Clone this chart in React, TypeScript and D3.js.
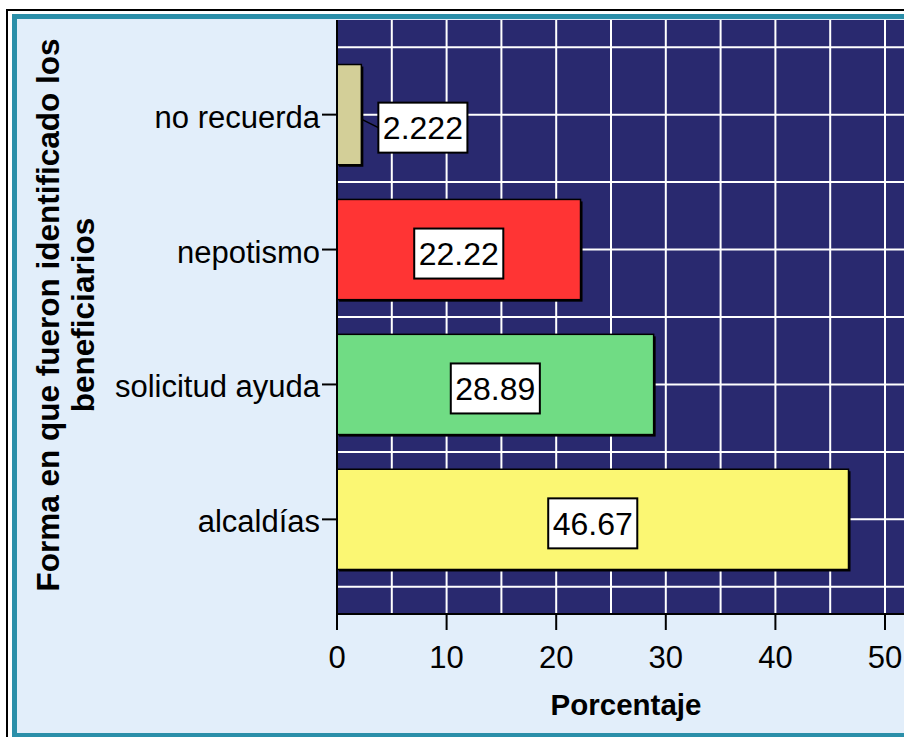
import { useMemo } from 'react'
import { scaleBand, scaleLinear, range as d3Range } from 'd3'

// Barras horizontales estilo SPSS: porcentaje por forma de identificación de beneficiarios.

const categories = ['no recuerda', 'nepotismo', 'solicitud ayuda', 'alcaldías']
const values = [2.222, 22.22, 28.89, 46.67]
const valueLabels = ['2.222', '22.22', '28.89', '46.67']
const barColors = ['#d3cf98', '#ff3434', '#70dc84', '#fbf773']
const xTicks = [0, 10, 20, 30, 40, 50]

const W = 904
const H = 737
const PLOT = { left: 337, top: 20, right: 1000, bottom: 614 }
const NAVY = '#29296f'
const BG = '#e2eefa'
const TEAL = '#2b8fa9'
const FONT = '"Liberation Sans", Arial, Helvetica, sans-serif'

const LABEL_PX = 32
const BOX_H = 50

function textWidth(s: string, px: number) {
  let w = 0
  for (const ch of s) w += ch === '.' ? 0.278 : 0.556
  return w * px
}

export default function App() {
  const x = useMemo(() => scaleLinear().domain([0, 50]).range([PLOT.left, 885]), [])
  const y = useMemo(
    () => scaleBand().domain(categories).range([PLOT.top, PLOT.bottom]).paddingInner(0.257).paddingOuter(0.33),
    [],
  )
  const step = y.step()
  const bw = y.bandwidth()

  const vGrid = d3Range(5, 80, 5)
  const hGrid: number[] = []
  categories.forEach((c) => {
    const cy = (y(c) ?? 0) + bw / 2
    hGrid.push(cy - step / 2, cy)
  })
  hGrid.push((y(categories[categories.length - 1]) ?? 0) + bw / 2 + step / 2)

  return (
    <div style={{ position: 'fixed', left: 0, top: 0, width: W, height: H, overflow: 'hidden', background: '#fff' }}>
      <svg width={W} height={H} viewBox={`0 0 ${W} ${H}`} style={{ display: 'block', fontFamily: FONT }}>
        {/* marco exterior */}
        <rect x={7} y={10} width={1000} height={800} fill="#fff" stroke="#000" strokeWidth={2} />
        <rect x={12} y={14} width={1000} height={800} fill={TEAL} />
        <rect x={17} y={19} width={990} height={714} fill={BG} />

        {/* área del gráfico */}
        <rect x={PLOT.left} y={PLOT.top} width={PLOT.right - PLOT.left} height={PLOT.bottom - PLOT.top} fill={NAVY} />
        {vGrid.map((v) => (
          <line key={`v${v}`} x1={x(v)} x2={x(v)} y1={PLOT.top} y2={PLOT.bottom} stroke="#fff" strokeWidth={2} />
        ))}
        {hGrid.map((g, i) => (
          <line key={`h${i}`} x1={PLOT.left} x2={PLOT.right} y1={g} y2={g} stroke="#fff" strokeWidth={2} />
        ))}

        {/* barras */}
        {categories.map((c, i) => {
          const by = y(c) ?? 0
          const bx = x(0)
          const w = x(values[i]) - x(0)
          return (
            <g key={c}>
              <rect x={bx + 2} y={by + 2} width={w} height={bw} fill="#000" />
              <rect x={bx} y={by} width={w} height={bw} fill={barColors[i]} stroke="#000" strokeWidth={1.5} />
            </g>
          )
        })}

        {/* etiquetas de valor */}
        {categories.map((c, i) => {
          const cy = (y(c) ?? 0) + bw / 2
          const barEnd = x(values[i])
          const boxW = textWidth(valueLabels[i], LABEL_PX) + 9
          const inside = barEnd - x(0) > boxW + 20
          const bcx = inside ? (x(0) + barEnd) / 2 : barEnd + 17 + boxW / 2
          const bcy = inside ? cy + 4 : cy + 13
          return (
            <g key={`l${c}`}>
              {!inside && (
                <line x1={barEnd + 1} y1={cy + 5} x2={bcx - boxW / 2} y2={bcy} stroke="#000" strokeWidth={1.5} />
              )}
              <rect
                x={bcx - boxW / 2}
                y={bcy - BOX_H / 2}
                width={boxW}
                height={BOX_H}
                fill="#fff"
                stroke="#000"
                strokeWidth={2}
              />
              <text x={bcx} y={bcy + 11.5} textAnchor="middle" fontSize={LABEL_PX} fill="#000">
                {valueLabels[i]}
              </text>
            </g>
          )
        })}

        {/* ejes */}
        <line x1={PLOT.left} x2={PLOT.right} y1={PLOT.bottom} y2={PLOT.bottom} stroke="#000" strokeWidth={2} />
        <line x1={PLOT.left} x2={PLOT.left} y1={PLOT.top} y2={PLOT.bottom} stroke="#000" strokeWidth={2} />
        {xTicks.map((t) => (
          <g key={`xt${t}`}>
            <line x1={x(t)} x2={x(t)} y1={PLOT.bottom} y2={PLOT.bottom + 16} stroke="#000" strokeWidth={2} />
            <text x={x(t)} y={668} textAnchor="middle" fontSize={31} fill="#000">
              {t}
            </text>
          </g>
        ))}
        {categories.map((c) => {
          const cy = (y(c) ?? 0) + bw / 2
          return (
            <g key={`yt${c}`}>
              <line x1={PLOT.left - 15} x2={PLOT.left} y1={cy} y2={cy} stroke="#000" strokeWidth={2} />
              <text x={PLOT.left - 17} y={cy + 13} textAnchor="end" fontSize={31} fill="#000">
                {c}
              </text>
            </g>
          )
        })}

        {/* títulos */}
        <text x={626} y={715} textAnchor="middle" fontSize={29.5} fontWeight="bold" fill="#000">
          Porcentaje
        </text>
        <g transform="translate(59, 315) rotate(-90)">
          <text x={0} y={0} textAnchor="middle" fontSize={31.5} fontWeight="bold" fill="#000">
            Forma en que fueron identificado los
          </text>
          <text x={0} y={35} textAnchor="middle" fontSize={31.5} fontWeight="bold" fill="#000">
            beneficiarios
          </text>
        </g>
      </svg>
    </div>
  )
}
